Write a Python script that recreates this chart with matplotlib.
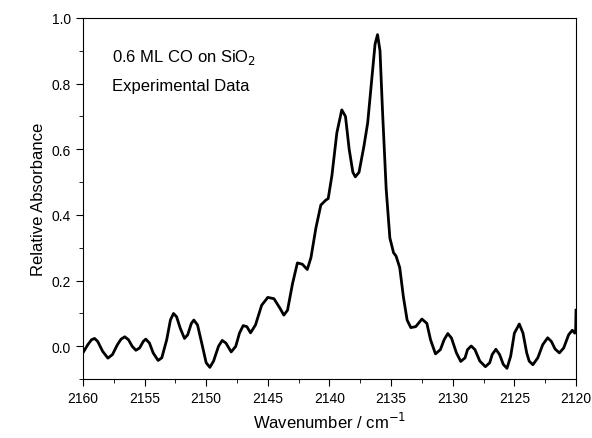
import matplotlib
matplotlib.use("Agg")
import matplotlib.pyplot as plt
from matplotlib.ticker import MultipleLocator, FormatStrFormatter

plt.rcParams['font.family'] = ['Liberation Sans', 'DejaVu Sans']

# values
wavenumber = [2160.0, 2159.6, 2159.3, 2159.05, 2158.8, 2158.4, 2157.97, 2157.6, 2157.2, 2156.9,
              2156.6, 2156.3, 2156.0, 2155.7, 2155.4, 2155.1, 2154.9, 2154.6, 2154.3, 2153.9,
              2153.6, 2153.2, 2152.9, 2152.65, 2152.4, 2152.1, 2151.76, 2151.5, 2151.2, 2151.0,
              2150.7, 2150.3, 2150.0, 2149.7, 2149.4, 2149.0, 2148.7, 2148.4, 2147.97, 2147.6,
              2147.3, 2147.0, 2146.7, 2146.4, 2146.0, 2145.5, 2145.0, 2144.5, 2144.0, 2143.7,
              2143.4, 2143.0, 2142.6, 2142.2, 2141.8, 2141.5, 2141.1, 2140.7, 2140.3, 2140.1,
              2139.8, 2139.4, 2139.0, 2138.7, 2138.4, 2138.1, 2137.9, 2137.6, 2137.2, 2136.9,
              2136.6, 2136.3, 2136.1, 2135.9, 2135.7, 2135.4, 2135.1, 2134.8, 2134.6, 2134.3,
              2134.0, 2133.7, 2133.4, 2133.0, 2132.5, 2132.1, 2131.8, 2131.4, 2131.0, 2130.7,
              2130.4, 2130.1, 2129.7, 2129.35, 2129.0, 2128.8, 2128.5, 2128.2, 2127.8, 2127.35,
              2127.0, 2126.8, 2126.5, 2126.2, 2125.9, 2125.6, 2125.3, 2125.0, 2124.6, 2124.3,
              2124.0, 2123.8, 2123.5, 2123.1, 2122.7, 2122.3, 2122.0, 2121.7, 2121.35, 2121.0,
              2120.6, 2120.3, 2120.1, 2120.03, 2120.0]
absorbance = [-0.02, 0.005, 0.02, 0.024, 0.015, -0.015, -0.036, -0.025, 0.005, 0.022,
              0.029, 0.02, 0.0, -0.012, -0.005, 0.015, 0.022, 0.01, -0.02, -0.043,
              -0.035, 0.02, 0.08, 0.10, 0.09, 0.055, 0.024, 0.035, 0.07, 0.08,
              0.065, 0.0, -0.05, -0.064, -0.045, 0.0, 0.018, 0.01, -0.017, 0.0,
              0.04, 0.063, 0.06, 0.041, 0.065, 0.125, 0.149, 0.145, 0.115, 0.095,
              0.11, 0.19, 0.254, 0.25, 0.234, 0.27, 0.36, 0.43, 0.445, 0.45,
              0.52, 0.65, 0.72, 0.70, 0.60, 0.53, 0.516, 0.53, 0.61, 0.68,
              0.80, 0.92, 0.949, 0.90, 0.72, 0.48, 0.33, 0.285, 0.275, 0.24,
              0.15, 0.08, 0.057, 0.06, 0.083, 0.07, 0.02, -0.023, -0.01, 0.02,
              0.039, 0.025, -0.02, -0.046, -0.035, -0.01, 0.001, -0.01, -0.045, -0.062,
              -0.05, -0.025, -0.009, -0.025, -0.055, -0.067, -0.03, 0.04, 0.068, 0.04,
              -0.02, -0.045, -0.056, -0.035, 0.005, 0.026, 0.015, -0.008, -0.02, -0.005,
              0.035, 0.049, 0.04, 0.05, 0.11]

fig = plt.figure(figsize=(5.92, 4.39), dpi=100)
ax = fig.add_axes([0.140, 0.134, 0.833, 0.823])
ax.plot(wavenumber, absorbance, color='black', linewidth=2, solid_joinstyle='round')
ax.set_xlim(2160, 2120)
ax.set_ylim(-0.1, 1.0)
ax.xaxis.set_major_locator(MultipleLocator(5))
ax.xaxis.set_minor_locator(MultipleLocator(2.5))
ax.yaxis.set_major_locator(MultipleLocator(0.2))
ax.yaxis.set_minor_locator(MultipleLocator(0.1))
ax.yaxis.set_major_formatter(FormatStrFormatter('%.1f'))
for s in ax.spines.values():
    s.set_linewidth(0.8)
ax.tick_params(which='major', length=5, labelsize=10)
ax.tick_params(which='minor', length=3)
ax.set_xlabel('Wavenumber / cm$^{-1}$', fontsize=12)
ax.set_ylabel('Relative Absorbance', fontsize=12)
ax.text(0.06, 0.88, '0.6 ML CO on SiO$_2$', transform=ax.transAxes, fontsize=12)
ax.text(0.06, 0.80, 'Experimental Data', transform=ax.transAxes, fontsize=12)
fig.savefig('out.png', dpi=100)
